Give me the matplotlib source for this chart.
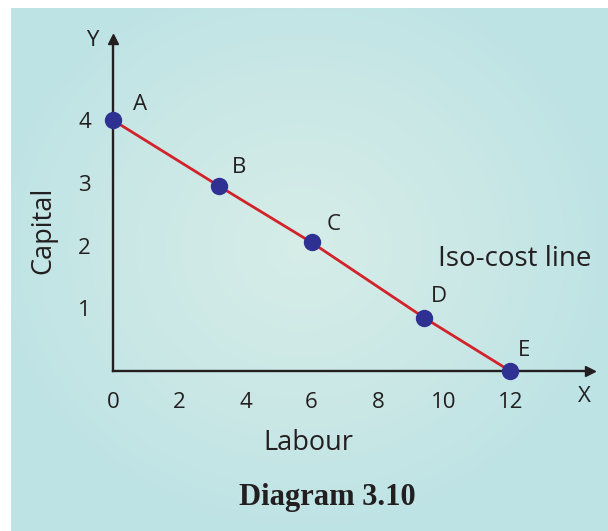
import numpy as np
import matplotlib.pyplot as plt
from matplotlib.colors import LinearSegmentedColormap

plt.rcParams['font.family'] = ['Open Sans', 'DejaVu Sans']

# data
labour = [0, 3.2, 6.0, 9.4, 12]
capital = [4, 2.95, 2.05, 0.85, 0]
point_names = ['A', 'B', 'C', 'D', 'E']
x_ticks = [0, 2, 4, 6, 8, 10, 12]
y_ticks = [1, 2, 3, 4]

W, H = 608, 531
fig = plt.figure(figsize=(W / 100, H / 100), dpi=100)
fig.patch.set_facecolor('white')

# background panel with a soft radial gradient
bg = fig.add_axes([11 / W, 0, 1 - 11 / W, (H - 8) / H])
bg.set_axis_off()
yy, xx = np.mgrid[0:523, 0:597]
r = np.sqrt(((xx - 290) / 330.0) ** 2 + ((yy - 240) / 300.0) ** 2)
r = np.clip(r, 0, 1)
cmap = LinearSegmentedColormap.from_list('bg', ['#d6ede8', '#cbe8e6', '#bde3e5'])
bg.imshow(r, cmap=cmap, aspect='auto', interpolation='bilinear')

# main axes: origin at (113, 371) px, arrow tips at x=590 and y=39
x0, y0 = 113, 371
px_x, px_y = 33.1, 62.7
xmax = (590 - x0) / px_x
ymax = (y0 - 39) / px_y
ax = fig.add_axes([x0 / W, (H - y0) / H, (590 - x0) / W, (y0 - 39) / H])
ax.patch.set_alpha(0)
ax.set_xlim(0, xmax)
ax.set_ylim(0, ymax)
for s in ['top', 'right']:
    ax.spines[s].set_visible(False)
for s in ['left', 'bottom']:
    ax.spines[s].set_linewidth(1.7)
    ax.spines[s].set_color('#231f20')
ax.plot(1, 0, '>', color='#231f20', ms=7, transform=ax.transAxes, clip_on=False)
ax.plot(0, 1, '^', color='#231f20', ms=7, transform=ax.transAxes, clip_on=False)

ax.set_xticks(x_ticks)
ax.set_yticks(y_ticks)
ax.tick_params(length=0, labelsize=16, colors='#231f20')
ax.tick_params(axis='x', pad=15)
ax.tick_params(axis='y', pad=16)

ax.plot(labour, capital, color='#d2232a', lw=2, zorder=3, clip_on=False)
ax.plot(labour, capital, 'o', color='#2e3192', ms=11.5, zorder=4, clip_on=False)

offsets = [(27, 16), (20, 19), (22, 18), (15, 21), (14, 20)]
for name, lx, ky, (dx, dy) in zip(point_names, labour, capital, offsets):
    ax.annotate(name, (lx, ky), xytext=(dx * 0.72, dy * 0.72), textcoords='offset points',
                ha='center', va='center', fontsize=16, color='#231f20')

fig.text(584 / W, 1 - 397 / H, 'X', fontsize=16, color='#231f20', ha='center', va='center')
fig.text(92 / W, 1 - 41 / H, 'Y', fontsize=16, color='#231f20', ha='center', va='center')
fig.text(515 / W, 1 - 259 / H, 'Iso-cost line', fontsize=20, color='#231f20', ha='center', va='center')
fig.text(43 / W, 1 - 230 / H, 'Capital', fontsize=19.5, color='#231f20', ha='center', va='center',
         rotation=90)
fig.text(308 / W, 1 - 443 / H, 'Labour', fontsize=19.5, color='#231f20', ha='center', va='center')
fig.text(327 / W, 1 - 497 / H, 'Diagram 3.10', fontsize=22, fontweight='bold', color='#231f20',
         ha='center', va='center', family=['Liberation Serif', 'DejaVu Serif'])

fig.savefig('out.png', dpi=100)
